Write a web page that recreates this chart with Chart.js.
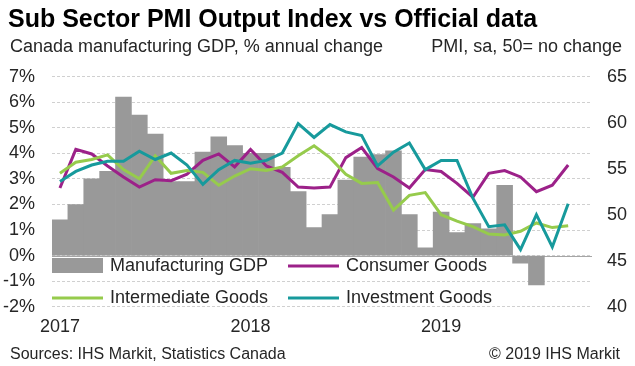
<!DOCTYPE html>
<html>
<head>
<meta charset="utf-8">
<script src="https://cdn.jsdelivr.net/npm/chart.js@4.4.0/dist/chart.umd.min.js"></script>
<style>
  body { margin: 0; background: #fff; }
  #wrap { position: relative; width: 635px; height: 366px; font-family: "Liberation Sans", Arial, sans-serif; color: #262626; }
  #wrap canvas { position: absolute; left: 0; top: 0; }
  .txt { position: absolute; line-height: 1; white-space: nowrap; }
  #title { left: 8px; top: 6px; font-size: 25px; font-weight: bold; color: #000; }
  #subL { left: 10px; top: 37px; font-size: 18px; }
  #subR { right: 13px; top: 37px; font-size: 18px; }
  #src { left: 10px; top: 346px; font-size: 16px; }
  #copy { right: 15px; top: 346px; font-size: 16px; }
</style>
</head>
<body>
<div id="wrap">
  <canvas id="chart" width="635" height="366"></canvas>
  <div class="txt" id="title">Sub Sector PMI Output Index vs Official data</div>
  <div class="txt" id="subL">Canada manufacturing GDP, % annual change</div>
  <div class="txt" id="subR">PMI, sa, 50= no change</div>
  <div class="txt" id="src">Sources: IHS Markit, Statistics Canada</div>
  <div class="txt" id="copy">© 2019 IHS Markit</div>
</div>
<script>
const FONT = '"Liberation Sans", Arial, sans-serif';
const TEXT = "#262626";

// Jan 2017 .. Oct 2019, year shown on January only
const months = [
  "Jan 2017", "Feb 2017", "Mar 2017", "Apr 2017", "May 2017", "Jun 2017",
  "Jul 2017", "Aug 2017", "Sep 2017", "Oct 2017", "Nov 2017", "Dec 2017",
  "Jan 2018", "Feb 2018", "Mar 2018", "Apr 2018", "May 2018", "Jun 2018",
  "Jul 2018", "Aug 2018", "Sep 2018", "Oct 2018", "Nov 2018", "Dec 2018",
  "Jan 2019", "Feb 2019", "Mar 2019", "Apr 2019", "May 2019", "Jun 2019",
  "Jul 2019", "Aug 2019", "Sep 2019", "Oct 2019"
];

// left axis, % y/y
const manufacturingGdp = [
  1.4, 2.0, 3.0, 3.3, 6.2, 5.5, 4.75, 2.9, 2.9, 4.05, 4.65, 4.3,
  4.0, 4.0, 3.45, 2.5, 1.1, 1.6, 2.95, 3.85, 3.95, 4.1, 1.6, 0.3,
  1.7, 0.9, 1.25, 1.05, 2.75, -0.3, -1.15
];

// right axis, PMI output index
const consumerGoods = [
  52.9, 57.1, 56.6, 55.3, 54.1, 53.0, 53.8, 53.7, 54.4, 55.9, 56.6, 55.2,
  57.1, 55.3, 54.6, 53.0, 52.9, 53.0, 56.2, 57.3, 55.0, 54.1, 52.9, 54.9,
  54.7, 53.4, 51.9, 54.5, 54.8, 54.1, 52.5, 53.2, 55.4
];
const intermediateGoods = [
  54.5, 55.7, 56.0, 56.5, 54.9, 53.9, 56.4, 54.5, 54.8, 54.6, 53.2, 54.2,
  55.0, 54.8, 55.2, 56.4, 57.5, 56.2, 54.4, 53.4, 53.5, 50.5, 52.1, 52.4,
  50.0, 49.3, 48.7, 47.9, 47.8, 48.2, 49.1, 48.6, 48.8
];
const investmentGoods = [
  53.6, 54.7, 55.4, 55.8, 55.8, 56.9, 56.0, 56.7, 55.4, 53.3, 54.9, 55.9,
  55.6, 55.9, 56.7, 59.9, 58.4, 59.8, 59.0, 58.6, 55.3, 56.8, 57.8, 54.9,
  55.9, 55.9, 51.8, 48.7, 48.9, 46.2, 50.0, 46.5, 51.2
];

const zeroLine = {
  id: "zeroLine",
  beforeDatasetsDraw(chart) {
    const { ctx, chartArea } = chart;
    const y = Math.round(chart.scales.y.getPixelForValue(0)) + 0.5;
    ctx.save();
    ctx.strokeStyle = "#a6a6a6";
    ctx.lineWidth = 1;
    ctx.beginPath();
    ctx.moveTo(chartArea.left, y);
    ctx.lineTo(chartArea.right, y);
    ctx.stroke();
    ctx.restore();
  }
};

// legend sits inside the plot, two rows under the zero line
const insideLegend = {
  id: "insideLegend",
  afterDraw(chart) {
    const { ctx, chartArea } = chart;
    const l = chartArea.left;
    const spots = [[l, 266], [l + 236, 266], [l, 298], [l + 236, 298]];
    ctx.save();
    ctx.font = "18px " + FONT;
    ctx.fillStyle = TEXT;
    ctx.textBaseline = "middle";
    chart.data.datasets.forEach((ds, i) => {
      const [x, y] = spots[i];
      if (ds.type === "bar") {
        ctx.fillStyle = ds.backgroundColor;
        ctx.fillRect(x, y - 8, 51, 15);
      } else {
        ctx.strokeStyle = ds.borderColor;
        ctx.lineWidth = 3;
        ctx.beginPath();
        ctx.moveTo(x, y);
        ctx.lineTo(x + 51, y);
        ctx.stroke();
      }
      ctx.fillStyle = TEXT;
      ctx.fillText(ds.label, x + 58, y);
    });
    ctx.restore();
  }
};

new Chart(document.getElementById("chart"), {
  data: {
    labels: months,
    datasets: [
      {
        type: "bar",
        label: "Manufacturing GDP",
        data: manufacturingGdp,
        yAxisID: "y",
        backgroundColor: "#999999",
        barPercentage: 1,
        categoryPercentage: 1,
        order: 4
      },
      {
        type: "line",
        label: "Consumer Goods",
        data: consumerGoods,
        yAxisID: "y1",
        borderColor: "#9c2189",
        borderWidth: 3,
        pointRadius: 0,
        tension: 0,
        order: 3
      },
      {
        type: "line",
        label: "Intermediate Goods",
        data: intermediateGoods,
        yAxisID: "y1",
        borderColor: "#96cb4c",
        borderWidth: 3,
        pointRadius: 0,
        tension: 0,
        order: 2
      },
      {
        type: "line",
        label: "Investment Goods",
        data: investmentGoods,
        yAxisID: "y1",
        borderColor: "#179a9c",
        borderWidth: 3,
        pointRadius: 0,
        tension: 0,
        order: 1
      }
    ]
  },
  options: {
    responsive: false,
    animation: false,
    layout: { padding: { top: 76.7, left: 0, right: 0, bottom: 0 } },
    plugins: {
      legend: { display: false },
      tooltip: { enabled: false }
    },
    scales: {
      x: {
        offset: true,
        grid: { display: false, drawTicks: false },
        border: { display: false },
        ticks: {
          autoSkip: false,
          maxRotation: 0,
          padding: 10,
          color: TEXT,
          font: { family: FONT, size: 18 },
          callback(v, i) {
            const m = months[i];
            return m.startsWith("Jan") ? m.slice(4) : "";
          }
        },
        afterFit(s) { s.height = 59.3; }
      },
      y: {
        position: "left",
        min: -2,
        max: 7,
        grid: { color: "#d0d0d0", drawTicks: false },
        border: { display: false, dash: [3, 2] },
        ticks: {
          stepSize: 1,
          padding: 17,
          color: TEXT,
          font: { family: FONT, size: 18 },
          callback: v => v + "%"
        },
        afterFit(s) { s.width = 52; }
      },
      y1: {
        position: "right",
        min: 40,
        max: 65,
        grid: { display: false, drawTicks: false },
        border: { display: false },
        ticks: {
          stepSize: 5,
          padding: 15,
          color: TEXT,
          font: { family: FONT, size: 18 }
        },
        afterFit(s) { s.width = 43; }
      }
    }
  },
  plugins: [zeroLine, insideLegend]
});
</script>
</body>
</html>
